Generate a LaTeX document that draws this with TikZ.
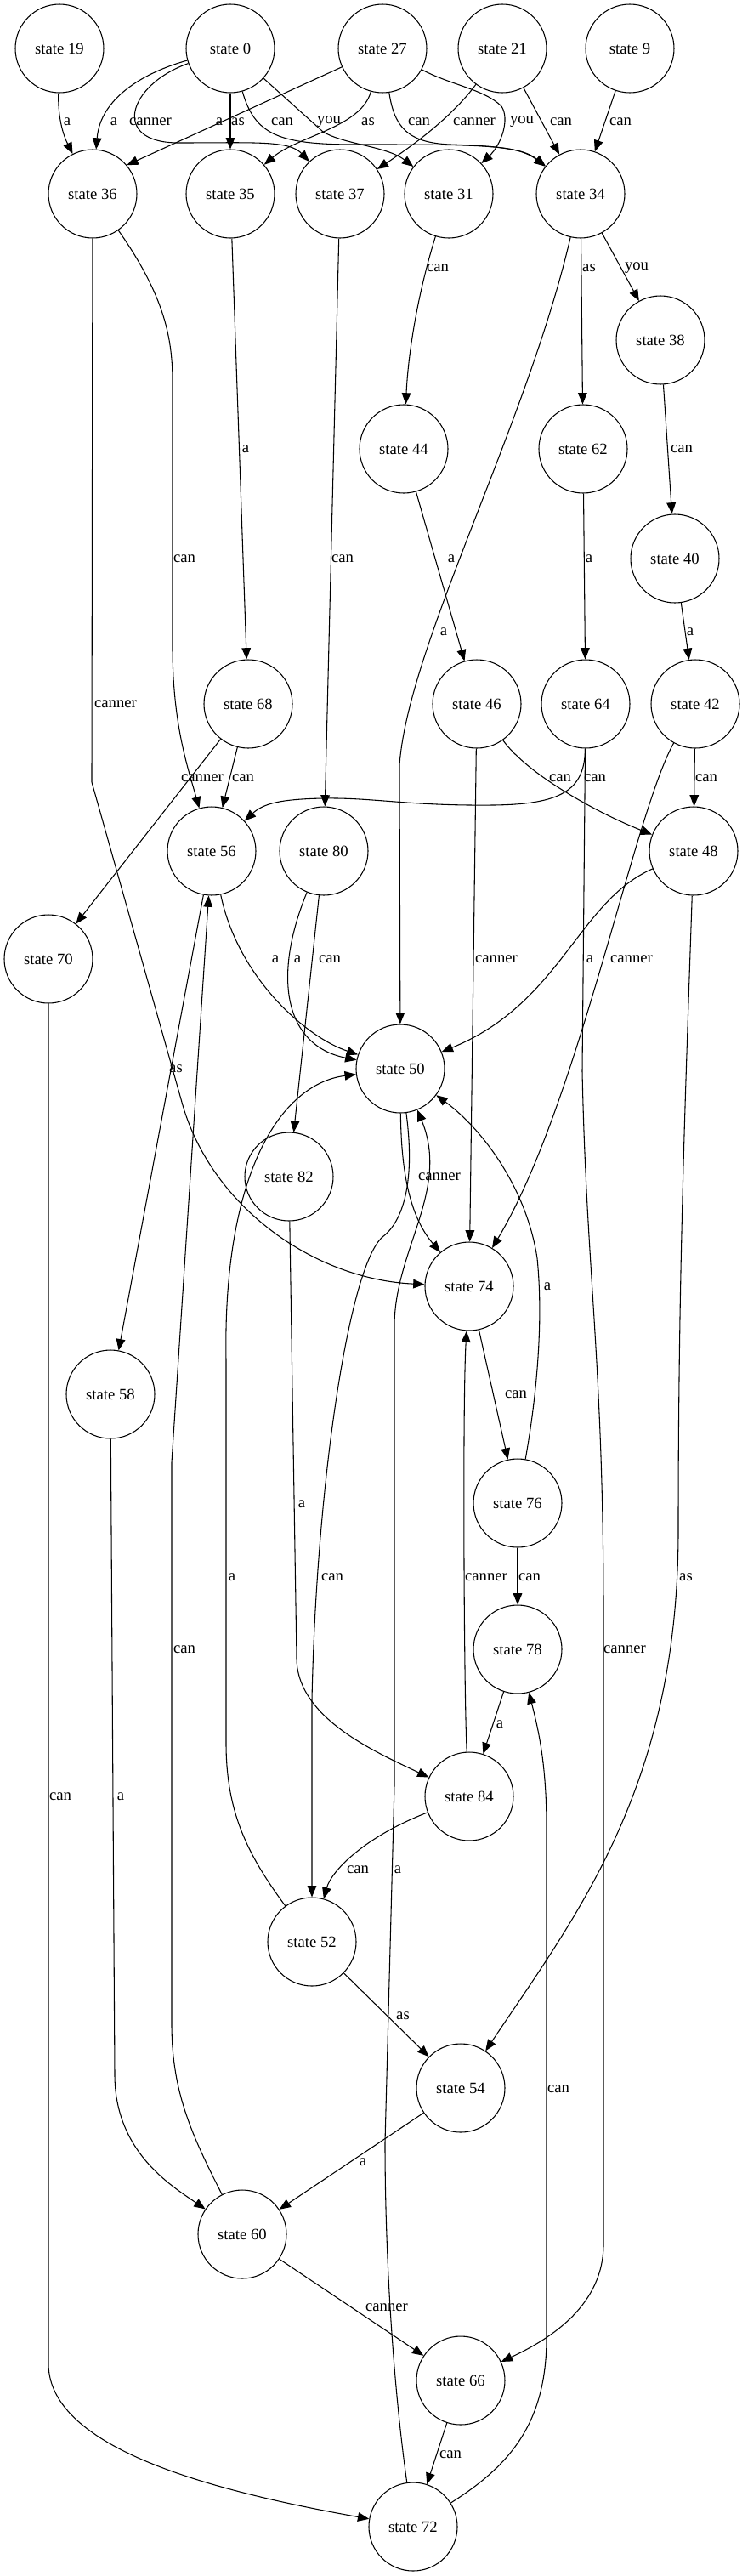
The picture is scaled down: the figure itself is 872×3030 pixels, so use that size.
\documentclass[tikz,border=0pt]{standalone}
\usepackage{fontspec}
\setmainfont{Liberation Serif}
\usepackage{tikz}
\usetikzlibrary{arrows.meta}

\begin{document}
\begin{tikzpicture}[x=0.75pt,y=-0.75pt,line width=0.8pt,
    font=\fontsize{14pt}{16pt}\selectfont,
    >={Triangle[length=10pt,width=8pt]},
    st/.style={draw,circle,minimum size=78pt,inner sep=0pt},
    lbl/.style={inner sep=0pt}]
  \useasboundingbox (0,0) rectangle (872,3030);
  % states
  \node[st] (s19) at (70,57) {state 19};
  \node[st] (s0) at (271,57) {state 0};
  \node[st] (s27) at (450,57) {state 27};
  \node[st] (s21) at (591,57) {state 21};
  \node[st] (s9) at (741,57) {state 9};
  \node[st] (s36) at (109,228) {state 36};
  \node[st] (s35) at (271,228) {state 35};
  \node[st] (s37) at (400,228) {state 37};
  \node[st] (s31) at (528,228) {state 31};
  \node[st] (s34) at (683,228) {state 34};
  \node[st] (s38) at (777,400) {state 38};
  \node[st] (s44) at (475,528) {state 44};
  \node[st] (s62) at (686,528) {state 62};
  \node[st] (s40) at (794,657) {state 40};
  \node[st] (s68) at (292,828) {state 68};
  \node[st] (s46) at (561,828) {state 46};
  \node[st] (s64) at (689,828) {state 64};
  \node[st] (s42) at (818,828) {state 42};
  \node[st] (s56) at (249,1001) {state 56};
  \node[st] (s80) at (381,1001) {state 80};
  \node[st] (s48) at (816,1001) {state 48};
  \node[st] (s70) at (57,1128) {state 70};
  \node[st] (s50) at (471,1257) {state 50};
  \node[st] (s82) at (340,1384) {state 82};
  \node[st] (s74) at (552,1513) {state 74};
  \node[st] (s58) at (130,1640) {state 58};
  \node[st] (s76) at (609,1768) {state 76};
  \node[st] (s78) at (609,1940) {state 78};
  \node[st] (s84) at (552,2113) {state 84};
  \node[st] (s52) at (367,2284) {state 52};
  \node[st] (s54) at (542,2456) {state 54};
  \node[st] (s60) at (285,2628) {state 60};
  \node[st] (s66) at (542,2800) {state 66};
  \node[st] (s72) at (486,2972) {state 72};

  % top rows
  \draw[->] (s19) .. controls (68,140) and (75,160) .. (s36) node[lbl] at (79,143) {a};
  \draw[->] (s0) .. controls (170,85) and (118,115) .. (s36) node[lbl] at (134,143) {a};
  \draw[->] (s0) .. controls (150,100) and (130,168) .. (210,168) .. controls (300,168) and (340,165) .. (s37) node[lbl] at (177,143) {canner};
  \draw[->] (s27) -- (s36.40) node[lbl] at (258,143) {a};
  \draw[->] (s0) -- (s35) node[lbl] at (280,143) {as};
  \draw[->] (s0) .. controls (300,160) and (330,170) .. (420,170) .. controls (560,170) and (610,170) .. (s34) node[lbl] at (332,143) {can};
  \draw[->] (s0) -- (380,155) .. controls (405,170) and (455,172) .. (s31) node[lbl] at (387,143) {you};
  \draw[->] (s27) .. controls (425,150) and (350,160) .. (s35) node[lbl] at (433,143) {as};
  \draw[->] (s27) .. controls (464,150) and (480,168) .. (530,170) .. controls (590,172) and (615,175) .. (s34) node[lbl] at (493,143) {can};
  \draw[->] (s21) .. controls (530,140) and (480,175) .. (s37) node[lbl] at (558,143) {canner};
  \draw[->] (s27) .. controls (530,100) and (570,105) .. (590,125) .. controls (600,140) and (590,170) .. (s31) node[lbl] at (614,143) {you};
  \draw[->] (s21) -- (s34) node[lbl] at (660,143) {can};
  \draw[->] (s9) -- (s34) node[lbl] at (730,143) {can};

  \draw[->] (s36) -- (108,920) -- (215,1300) .. controls (250,1420) and (370,1505) .. (s74) node[lbl] at (136,828) {canner};
  \draw[->] (s36) .. controls (195,350) and (203,400) .. (203,450) -- (203,760) .. controls (203,850) and (220,900) .. (s56) node[lbl] at (217,657) {can};
  \draw[->] (s35) -- (s68) node[lbl] at (289,528) {a};
  \draw[->] (s37) -- (s80) node[lbl] at (403,657) {can};
  \draw[->] (s31) .. controls (490,350) and (480,420) .. (s44) node[lbl] at (515,315) {can};
  \draw[->] (s34) .. controls (620,500) and (480,760) .. (470,900) -- (s50) node[lbl] at (522,743) {a};
  \draw[->] (s34) -- (s62) node[lbl] at (693,315) {as};
  \draw[->] (s34) -- (s38) node[lbl] at (749,315) {you};
  \draw[->] (s38) -- (s40) node[lbl] at (802,528) {can};
  \draw[->] (s44) -- (s46) node[lbl] at (531,657) {a};
  \draw[->] (s62) -- (s64) node[lbl] at (693,657) {a};
  \draw[->] (s40) -- (s42) node[lbl] at (812,743) {a};

  % middle
  \draw[->] (s68) -- (s70) node[lbl] at (238,915) {canner};
  \draw[->] (s68) -- (s56) node[lbl] at (286,915) {can};
  \draw[->] (s46) -- (s74) node[lbl] at (584,1128) {canner};
  \draw[->] (s46) .. controls (620,910) and (700,955) .. (s48) node[lbl] at (659,915) {can};
  \draw[->] (s64) .. controls (688,930) and (660,946) .. (580,947) .. controls (480,948) and (440,938) .. (380,939) .. controls (330,940) and (310,945) .. (s56) node[lbl] at (700,915) {can};
  \draw[->] (s64) -- (685,1260) .. controls (690,1500) and (710,1600) .. (710,1900) -- (710,2640) .. controls (710,2710) and (650,2750) .. (s66) node[lbl] at (735,1940) {canner};
  \draw[->] (s42) -- (s48) node[lbl] at (831,915) {can};
  \draw[->] (s42) .. controls (745,960) and (680,1300) .. (s74) node[lbl] at (743,1128) {canner};
  \draw[->] (s48) .. controls (680,1060) and (660,1180) .. (s50) node[lbl] at (694,1128) {a};
  \draw[->] (s48) .. controls (806,1300) and (798,1500) .. (798,1800) .. controls (798,2100) and (680,2250) .. (s54) node[lbl] at (807,1855) {as};
  \draw[->] (s56) .. controls (280,1150) and (360,1220) .. (s50) node[lbl] at (324,1128) {a};
  \draw[->] (s80) .. controls (320,1150) and (335,1230) .. (s50) node[lbl] at (350,1128) {a};
  \draw[->] (s80) -- (s82) node[lbl] at (388,1128) {can};
  \draw[->] (s56) -- (s58) node[lbl] at (207,1257) {as};
  \draw[->] (s60) .. controls (225,2510) and (202,2460) .. (202,2380) -- (202,1720) -- (s56) node[lbl] at (217,1940) {can};
  \draw[->] (s70) -- (57,2780) .. controls (57,2880) and (250,2930) .. (s72) node[lbl] at (71,2113) {can};
  \draw[->] (s58) -- (135,2440) .. controls (135,2530) and (200,2570) .. (s60) node[lbl] at (142,2113) {a};

  % around state 50
  \draw[->] (s50) .. controls (472,1400) and (490,1440) .. (s74) node[lbl] at (517,1384) {canner};
  \draw[->] (s50) .. controls (490,1400) and (470,1440) .. (450,1455) .. controls (410,1490) and (372,1750) .. (367,2000) -- (s52) node[lbl] at (391,1855) {can};
  \draw[->] (s52) .. controls (290,2180) and (266,2130) .. (266,2050) -- (266,1600) .. controls (262,1380) and (330,1275) .. (s50) node[lbl] at (273,1855) {a};
  \draw[->] (s76) .. controls (630,1650) and (640,1560) .. (632,1480) .. controls (620,1400) and (570,1330) .. (s50) node[lbl] at (644,1513) {a};
  \draw[->] (s72) .. controls (462,2800) and (453,2650) .. (453,2520) -- (464,2100) -- (464,1560) .. controls (464,1470) and (530,1400) .. (s50) node[lbl] at (468,2199) {a};

  % lower part
  \draw[->] (s74) -- (s76) node[lbl] at (607,1640) {can};
  \draw[->] (s84) .. controls (546,2000) and (544,1650) .. (s74) node[lbl] at (572,1855) {canner};
  \draw[->] (s76) -- (s78) node[lbl] at (623,1855) {can};
  \draw[->] (s78) -- (s84) node[lbl] at (588,2028) {a};
  \draw[->] (s72) .. controls (600,2900) and (643,2850) .. (643,2750) -- (643,2150) .. controls (643,2080) and (635,2040) .. (s78) node[lbl] at (657,2457) {can};
  \draw[->] (s84) .. controls (430,2160) and (390,2200) .. (s52) node[lbl] at (421,2199) {can};
  \draw[->] (s82) -- (349,1950) .. controls (349,2020) and (440,2060) .. (s84) node[lbl] at (355,1769) {a};
  \draw[->] (s52) -- (s54) node[lbl] at (474,2371) {as};
  \draw[->] (s54) -- (s60) node[lbl] at (427,2543) {a};
  \draw[->] (s60) -- (s66) node[lbl] at (455,2714) {canner};
  \draw[->] (s66) -- (s72) node[lbl] at (530,2887) {can};
\end{tikzpicture}
\end{document}
